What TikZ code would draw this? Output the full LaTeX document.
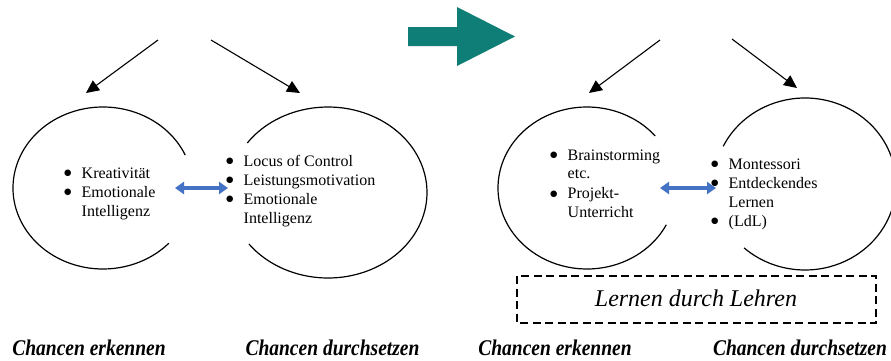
\documentclass[tikz,border=0pt]{standalone}
\usepackage{fontspec}
\setmainfont{Liberation Serif}
\newfontfamily\dotfont{DejaVu Sans}
\usetikzlibrary{arrows.meta}
\definecolor{tealarrow}{RGB}{14,126,118}
\definecolor{linkblue}{RGB}{68,114,196}
\newcommand\blt{\makebox[17.5pt][l]{\raisebox{2.3pt}{\dotfont\fontsize{8.5}{9}\selectfont ●}}}
\newcommand\cont{\hspace*{17.5pt}}
\begin{document}
\begin{tikzpicture}[x=1pt,y=-1pt,
  ring/.style={line width=1.2pt},
  feed/.style={line width=1.1pt,-{Triangle[length=13pt,width=12pt]}},
  link/.style={linkblue,line width=3.2pt,{Triangle[length=9pt,width=12pt]}-{Triangle[length=9pt,width=12pt]}},
  itemtext/.style={anchor=base west,inner sep=0pt},
  chance/.style={anchor=base,inner sep=0pt,font=\fontsize{19.5}{22}\selectfont\bfseries\itshape}]
\useasboundingbox[fill=white] (0,0) rectangle (891,360);

% circle centres
\coordinate (c1) at (103,188);
\coordinate (c2) at (328,192.5);
\coordinate (c3) at (587,188);
\coordinate (c4) at (805,184);

% open rings
\draw[ring] ([shift={(24:90pt and 81pt)}]c1) arc[start angle=24,end angle=317,x radius=90pt,y radius=81pt];
\draw[ring] ([shift={(144.6:99pt and 85.5pt)}]c2) arc[start angle=144.6,end angle=-143,x radius=99pt,y radius=85.5pt];
\draw[ring] ([shift={(40:89pt and 81pt)}]c3) arc[start angle=40,end angle=333,x radius=89pt,y radius=81pt];
\draw[ring] ([shift={(154:91pt and 86pt)}]c4) arc[start angle=154,end angle=-132,x radius=91pt,y radius=86pt];

% incoming arrows
\coordinate (s1) at (158,40);  \coordinate (t1) at (86,93);
\coordinate (s2) at (211,40);  \coordinate (t2) at (300,93);
\coordinate (s3) at (660,40);  \coordinate (t3) at (589,93);
\coordinate (s4) at (732,39);  \coordinate (t4) at (797,88);
\draw[feed] (s1) -- (t1);
\draw[feed] (s2) -- (t2);
\draw[feed] (s3) -- (t3);
\draw[feed] (s4) -- (t4);

% block arrow
\fill[tealarrow] (408,27) -- (457,27) -- (457,7) -- (515,36.5) -- (457,66) -- (457,46) -- (408,46) -- cycle;

% two-way links
\coordinate (l1a) at (175,188); \coordinate (l1b) at (228,188);
\coordinate (l2a) at (660,188); \coordinate (l2b) at (716,188);
\draw[link] (l1a) -- (l1b);
\draw[link] (l2a) -- (l2b);

% bullet lists
\node[itemtext] (list1) at (64,178) {\parbox[t]{120pt}{\fontsize{16}{19}\selectfont
  \blt Kreativität\par \blt Emotionale\par \cont Intelligenz}};
\node[itemtext] (list2) at (226,166) {\parbox[t]{170pt}{\fontsize{16}{19}\selectfont
  \blt Locus of Control\par \blt Leistungsmotivation\par \blt Emotionale\par \cont Intelligenz}};
\node[itemtext] (list3) at (550,160) {\parbox[t]{120pt}{\fontsize{16}{18.5}\selectfont
  \blt Brainstorming\par \cont etc.\par\vspace{1.5pt} \blt Projekt-\par \cont Unterricht}};
\node[itemtext] (list4) at (711,169) {\parbox[t]{120pt}{\fontsize{16}{19}\selectfont
  \blt Montessori\par \blt Entdeckendes\par \cont Lernen\par \blt (LdL)}};

% dashed box
\draw[line width=1.2pt,dash pattern=on 8pt off 4.5pt] (517,276) rectangle (876,323);
\node[inner sep=0pt,font=\fontsize{24}{28}\selectfont\itshape] (ldl) at (696,298) {Lernen durch Lehren};

% captions
\node[chance] (cap1) at (89,355) {\scalebox{1}[1.15]{Chancen erkennen}};
\node[chance] (cap2) at (332.5,355) {\scalebox{1}[1.15]{Chancen durchsetzen}};
\node[chance] (cap3) at (555,355) {\scalebox{1}[1.15]{Chancen erkennen}};
\node[chance] (cap4) at (800,355) {\scalebox{1}[1.15]{Chancen durchsetzen}};
\end{tikzpicture}
\end{document}
